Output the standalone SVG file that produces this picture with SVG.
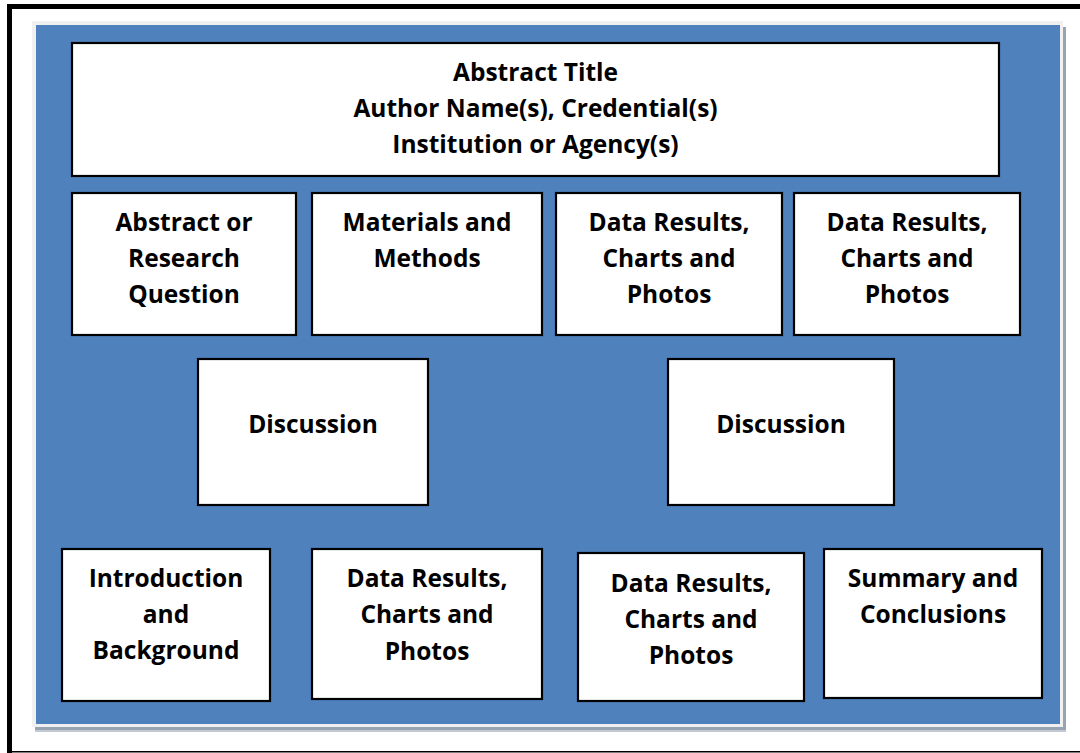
<svg xmlns="http://www.w3.org/2000/svg" width="1080" height="753" viewBox="0 0 1080 753">
  <style>
    .box { fill: #FFFFFF; stroke: #000000; stroke-width: 2.2; }
    .lbl { font-family: "Open Sans", "Noto Sans", "DejaVu Sans", sans-serif; font-weight: 700; font-size: 24.5px; fill: #000000; text-anchor: middle; }
  </style>
  <rect x="0" y="0" width="1080" height="753" fill="#FFFFFF"/>
  <g id="frame">
    <line x1="9.5" y1="4" x2="9.5" y2="753" stroke="#000" stroke-width="5"/>
    <line x1="7" y1="6.5" x2="1080" y2="6.5" stroke="#000" stroke-width="5"/>
    <line x1="7" y1="751.8" x2="1080" y2="751.8" stroke="#000" stroke-width="1.5"/>
    <rect x="35" y="27" width="1031" height="705" fill="#C3CAD3"/>
    <rect x="35" y="27" width="1031" height="703" fill="#98A4B2"/>
    <rect x="32" y="21" width="1031" height="706" fill="#F0F0F0"/>
    <rect x="36" y="25" width="1024" height="699" fill="#4F81BD"/>
  </g>
  <g id="connectors"></g>
  <g id="title">
    <rect class="box" x="72" y="43" width="927" height="133"/>
    <text class="lbl" x="535.5" y="81">Abstract Title</text>
    <text class="lbl" x="535.5" y="117">Author Name(s), Credential(s)</text>
    <text class="lbl" x="535.5" y="153">Institution or Agency(s)</text>
  </g>
  <g id="abstract">
    <rect class="box" x="72" y="193" width="224" height="142"/>
    <text class="lbl" x="184" y="231">Abstract or</text>
    <text class="lbl" x="184" y="267">Research</text>
    <text class="lbl" x="184" y="303">Question</text>
  </g>
  <g id="materials">
    <rect class="box" x="312" y="193" width="230" height="142"/>
    <text class="lbl" x="427" y="231">Materials and</text>
    <text class="lbl" x="427" y="267">Methods</text>
  </g>
  <g id="data1">
    <rect class="box" x="556" y="193" width="226" height="142"/>
    <text class="lbl" x="669" y="231">Data Results,</text>
    <text class="lbl" x="669" y="267">Charts and</text>
    <text class="lbl" x="669" y="303">Photos</text>
  </g>
  <g id="data2">
    <rect class="box" x="794" y="193" width="226" height="142"/>
    <text class="lbl" x="907" y="231">Data Results,</text>
    <text class="lbl" x="907" y="267">Charts and</text>
    <text class="lbl" x="907" y="303">Photos</text>
  </g>
  <g id="discussion1">
    <rect class="box" x="198" y="359" width="230" height="146"/>
    <text class="lbl" x="313" y="433">Discussion</text>
  </g>
  <g id="discussion2">
    <rect class="box" x="668" y="359" width="226" height="146"/>
    <text class="lbl" x="781" y="433">Discussion</text>
  </g>
  <g id="introduction">
    <rect class="box" x="62" y="549" width="208" height="152"/>
    <text class="lbl" x="166" y="587">Introduction</text>
    <text class="lbl" x="166" y="623">and</text>
    <text class="lbl" x="166" y="659">Background</text>
  </g>
  <g id="data3">
    <rect class="box" x="312" y="549" width="230" height="150"/>
    <text class="lbl" x="427" y="587">Data Results,</text>
    <text class="lbl" x="427" y="623">Charts and</text>
    <text class="lbl" x="427" y="660">Photos</text>
  </g>
  <g id="data4">
    <rect class="box" x="578" y="553" width="226" height="148"/>
    <text class="lbl" x="691" y="592">Data Results,</text>
    <text class="lbl" x="691" y="628">Charts and</text>
    <text class="lbl" x="691" y="664">Photos</text>
  </g>
  <g id="summary">
    <rect class="box" x="824" y="549" width="218" height="149"/>
    <text class="lbl" x="933" y="587">Summary and</text>
    <text class="lbl" x="933" y="623">Conclusions</text>
  </g>
</svg>
